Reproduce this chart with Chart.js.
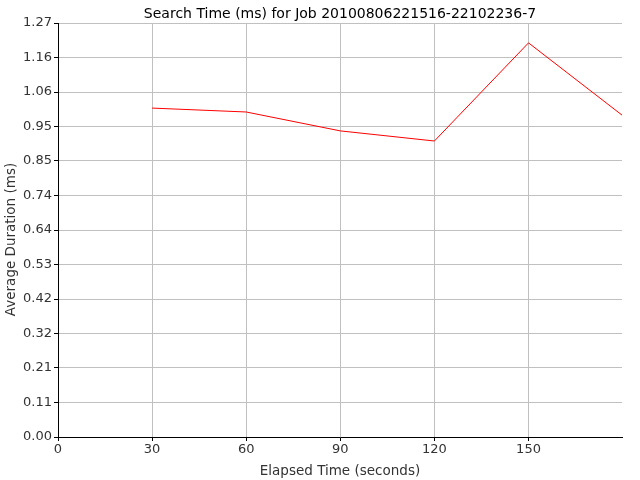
<!DOCTYPE html>
<html><head><meta charset="utf-8">
<script src="https://cdn.jsdelivr.net/npm/chart.js@4"></script>
<style>html,body{margin:0;padding:0;background:#fff}#wrap{width:640px;height:480px}</style>
</head><body><div id="wrap"><canvas id="c" width="640" height="480"></canvas></div>
<script>
const elapsedSeconds = [30, 60, 90, 120, 150, 180];
const avgDurationMs = [1.009, 0.997, 0.939, 0.908, 1.209, 0.986];
const yTickValues = [0, 0.10583, 0.21167, 0.3175, 0.42333, 0.52917, 0.635, 0.74083, 0.84667, 0.9525, 1.05833, 1.16417, 1.27];
const xTickValues = [0, 30, 60, 90, 120, 150];
const titleText = 'Search Time (ms) for Job 20100806221516-22102236-7';
const xTitle = 'Elapsed Time (seconds)';
const yTitle = 'Average Duration (ms)';

const FONT = 'DejaVu Sans, Tahoma, sans-serif';

const yTitlePlugin = {
  id: 'yTitle',
  afterDraw(chart) {
    const ctx = chart.ctx;
    const area = chart.chartArea;
    ctx.save();
    ctx.font = '13.5px ' + FONT;
    ctx.fillStyle = '#333';
    ctx.textAlign = 'center';
    ctx.textBaseline = 'middle';
    ctx.translate(11.5, (area.top + area.bottom) / 2 + 9.5);
    ctx.rotate(-Math.PI / 2);
    ctx.fillText(yTitle, 0, 0);
    ctx.restore();
  }
};

new Chart(document.getElementById('c'), {
  type: 'line',
  data: {
    datasets: [{
      data: elapsedSeconds.map((x, i) => ({x: x, y: avgDurationMs[i]})),
      borderColor: '#ff0000', borderWidth: 1, pointRadius: 0, tension: 0, fill: false
    }]
  },
  plugins: [yTitlePlugin],
  options: {
    responsive: false, animation: false,
    layout: {padding: {left: 0, right: 18, top: 0, bottom: 0}},
    plugins: {
      legend: {display: false}, tooltip: {enabled: false},
      title: {display: true, fullSize: false, text: titleText, color: '#000', font: {family: FONT, size: 14, weight: 'normal'}, padding: {top: 5.5, bottom: 0.7}}
    },
    scales: {
      x: {
        type: 'linear', min: 0, max: 179.8,
        afterBuildTicks: s => { s.ticks = xTickValues.map(v => ({value: v})); },
        afterFit: s => { s.height = 43; },
        border: {color: '#000', width: 1},
        grid: {color: '#c0c0c0', tickColor: '#000', tickLength: 4, lineWidth: 1},
        ticks: {color: '#333', font: {family: FONT, size: 13}, padding: 1, maxRotation: 0},
        title: {display: true, text: xTitle, color: '#333', font: {family: FONT, size: 13.5}, padding: {top: 0, bottom: 0}}
      },
      y: {
        type: 'linear', min: 0, max: 1.27,
        afterBuildTicks: s => { s.ticks = yTickValues.map(v => ({value: v})); },
        afterFit: s => { s.width = 58; },
        border: {color: '#000', width: 1},
        grid: {color: '#c0c0c0', tickColor: '#000', tickLength: 4, lineWidth: 1},
        ticks: {color: '#333', font: {family: FONT, size: 13}, padding: 2, callback: v => v.toFixed(2)},
        title: {display: false}
      }
    }
  }
});
</script></body></html>
